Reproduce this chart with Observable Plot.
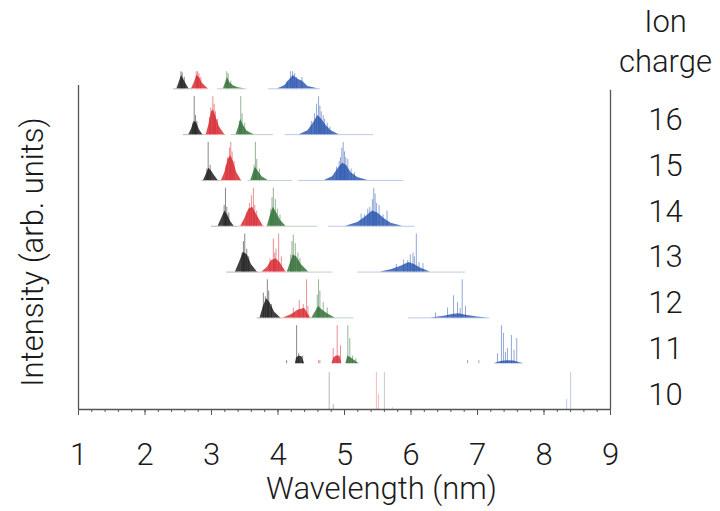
<!DOCTYPE html>
<html><head><meta charset="utf-8">
<script src="https://cdn.jsdelivr.net/npm/d3@7"></script>
<script src="https://cdn.jsdelivr.net/npm/@observablehq/plot@0.6"></script>
<style>
body{margin:0;background:#fff}
svg{font-family:Roboto,"Liberation Sans",sans-serif}
</style>
</head><body><div id="chart"></div>
<script>
// Ion charge rows (top row unlabeled), tick labels
const charges = [17,16,15,14,13,12,11,10];
const chargeLabels = [16,15,14,13,12,11,10];
const xTicks = [1,2,3,4,5,6,7,8,9];
const seriesColors = ["#111111","#d62028","#2b6a2f","#2350ad"];

// Dense "body" envelopes: [charge, wavelength (nm), intensity]
const blackBody = [
 [17,2.48,0],[17,2.52,0.2],[17,2.55,0.35],[17,2.58,0.25],[17,2.62,0.12],[17,2.66,0],
 [16,2.66,0],[16,2.70,0.15],[16,2.74,0.35],[16,2.78,0.3],[16,2.82,0.12],[16,2.87,0],
 [15,2.88,0],[15,2.92,0.15],[15,2.96,0.32],[15,3.00,0.25],[15,3.05,0.12],[15,3.10,0],
 [14,3.10,0],[14,3.15,0.2],[14,3.20,0.4],[14,3.24,0.3],[14,3.29,0.12],[14,3.34,0],
 [13,3.36,0],[13,3.42,0.25],[13,3.48,0.52],[13,3.54,0.45],[13,3.60,0.2],[13,3.69,0],
 [12,3.73,0],[12,3.78,0.3],[12,3.83,0.5],[12,3.88,0.4],[12,3.95,0.15],[12,4.04,0],
 [11,4.26,0],[11,4.28,0.15],[11,4.32,0.2],[11,4.36,0.18],[11,4.40,0]
];
const redBody = [
 [17,2.70,0],[17,2.74,0.15],[17,2.78,0.35],[17,2.82,0.3],[17,2.86,0.15],[17,2.92,0.05],[17,2.95,0],
 [16,2.92,0],[16,2.96,0.25],[16,3.00,0.6],[16,3.03,0.65],[16,3.07,0.45],[16,3.12,0.2],[16,3.20,0],
 [15,3.15,0],[15,3.20,0.2],[15,3.25,0.55],[15,3.29,0.65],[15,3.33,0.5],[15,3.38,0.2],[15,3.45,0],
 [14,3.44,0],[14,3.50,0.2],[14,3.56,0.45],[14,3.62,0.5],[14,3.68,0.3],[14,3.78,0],
 [13,3.76,0],[13,3.84,0.12],[13,3.90,0.3],[13,3.97,0.35],[13,4.03,0.25],[13,4.12,0],
 [12,4.08,0],[12,4.20,0.08],[12,4.30,0.2],[12,4.40,0.25],[12,4.49,0],
 [11,4.81,0],[11,4.84,0.15],[11,4.88,0.2],[11,4.93,0.2],[11,4.96,0]
];
const greenBody = [
 [17,3.18,0],[17,3.21,0.15],[17,3.24,0.3],[17,3.28,0.15],[17,3.33,0.08],[17,3.40,0.03],[17,3.50,0],
 [16,3.37,0],[16,3.41,0.2],[16,3.44,0.4],[16,3.48,0.25],[16,3.53,0.1],[16,3.60,0.03],[16,3.65,0],
 [15,3.59,0],[15,3.63,0.2],[15,3.66,0.35],[15,3.70,0.25],[15,3.76,0.1],[15,3.85,0],
 [14,3.84,0],[14,3.88,0.25],[14,3.93,0.5],[14,3.98,0.35],[14,4.04,0.15],[14,4.12,0],
 [13,4.14,0],[13,4.19,0.25],[13,4.23,0.45],[13,4.28,0.4],[13,4.35,0.2],[13,4.46,0],
 [12,4.51,0],[12,4.56,0.15],[12,4.61,0.3],[12,4.67,0.2],[12,4.75,0.1],[12,4.86,0],
 [11,5.02,0],[11,5.05,0.2],[11,5.10,0.15],[11,5.18,0.05],[11,5.22,0]
];
const blueBody = [
 [17,4.00,0],[17,4.10,0.08],[17,4.18,0.25],[17,4.23,0.35],[17,4.30,0.25],[17,4.37,0.2],[17,4.45,0.06],[17,4.60,0],
 [16,4.32,0],[16,4.45,0.1],[16,4.53,0.3],[16,4.60,0.5],[16,4.66,0.4],[16,4.72,0.25],[16,4.80,0.1],[16,4.92,0],
 [15,4.70,0],[15,4.82,0.1],[15,4.90,0.3],[15,4.97,0.45],[15,5.03,0.4],[15,5.10,0.2],[15,5.20,0.08],[15,5.35,0],
 [14,5.02,0],[14,5.20,0.1],[14,5.32,0.25],[14,5.42,0.4],[14,5.50,0.35],[14,5.60,0.2],[14,5.70,0.08],[14,5.87,0],
 [13,5.54,0],[13,5.70,0.06],[13,5.85,0.15],[13,5.97,0.25],[13,6.05,0.2],[13,6.15,0.1],[13,6.29,0],
 [12,6.30,0],[12,6.50,0.04],[12,6.62,0.09],[12,6.72,0.11],[12,6.85,0.06],[12,7.00,0.02],[12,7.15,0],
 [11,7.25,0],[11,7.35,0.06],[11,7.45,0.08],[11,7.55,0.07],[11,7.62,0.03],[11,7.70,0]
];

// Individual emission lines: [charge, wavelength (nm), intensity]
const blackLines = [
 [17,2.54,0.45],[17,2.56,0.42],[17,2.59,0.3],
 [16,2.74,1.0],[16,2.76,0.5],[16,2.72,0.3],[16,2.78,0.35],
 [15,2.95,1.0],[15,2.98,0.4],[15,2.93,0.3],
 [14,3.21,1.0],[14,3.19,0.55],[14,3.23,0.5],[14,3.26,0.35],
 [13,3.50,1.0],[13,3.48,0.8],[13,3.53,0.6],[13,3.46,0.5],[13,3.56,0.4],
 [12,3.84,1.0],[12,3.78,0.65],[12,3.86,0.7],[12,3.90,0.35],[12,3.81,0.55],
 [11,4.28,1.0],[11,4.31,0.26],[11,4.37,0.2],[11,4.13,0.08],
 [10,4.77,0.97],[10,4.83,0.13]
];
const redLines = [
 [17,2.77,0.45],[17,2.79,0.45],[17,2.81,0.4],[17,2.84,0.3],
 [16,3.02,1.0],[16,2.99,0.7],[16,3.04,0.8],[16,3.06,0.6],[16,3.09,0.4],[16,2.97,0.45],
 [15,3.29,1.0],[15,3.27,0.85],[15,3.31,0.75],[15,3.24,0.6],[15,3.34,0.5],[15,3.22,0.4],
 [14,3.63,1.0],[14,3.60,0.8],[14,3.57,0.6],[14,3.65,0.55],[14,3.53,0.35],[14,3.68,0.4],
 [13,4.01,1.0],[13,3.93,0.87],[13,3.97,0.6],[13,3.88,0.35],[13,4.05,0.4],[13,3.95,0.5],
 [12,4.43,1.0],[12,4.32,0.45],[12,4.23,0.26],[12,4.38,0.35],[12,4.45,0.3],
 [11,4.89,1.0],[11,4.94,0.47],[11,4.83,0.4],[11,4.61,0.08],[11,4.63,0.08],
 [10,5.48,0.97],[10,5.51,0.4]
];
const greenLines = [
 [17,3.23,0.45],[17,3.25,0.4],[17,3.29,0.2],
 [16,3.44,1.0],[16,3.46,0.55],[16,3.42,0.35],[16,3.50,0.3],
 [15,3.66,1.0],[15,3.68,0.55],[15,3.64,0.4],[15,3.72,0.3],
 [14,3.93,1.0],[14,3.91,0.75],[14,3.96,0.7],[14,3.99,0.45],[14,4.03,0.3],[14,3.89,0.45],
 [13,4.23,0.97],[13,4.21,0.8],[13,4.26,0.75],[13,4.30,0.5],[13,4.33,0.35],[13,4.19,0.45],
 [12,4.61,1.0],[12,4.59,0.6],[12,4.63,0.7],[12,4.68,0.4],[12,4.74,0.26],
 [11,5.05,1.0],[11,5.08,0.66],[11,5.17,0.13],[11,5.12,0.2],
 [10,5.60,0.97],[10,5.72,0.05]
];
const blueLines = [
 [17,4.19,0.45],[17,4.22,0.45],[17,4.25,0.4],[17,4.28,0.3],[17,4.36,0.3],[17,4.14,0.2],
 [16,4.61,1.0],[16,4.58,0.8],[16,4.63,0.75],[16,4.55,0.55],[16,4.68,0.5],[16,4.74,0.3],
 [16,4.50,0.35],[16,4.65,0.6],[16,4.70,0.4],[16,4.78,0.2],
 [15,4.98,1.0],[15,4.96,0.85],[15,5.00,0.75],[15,4.92,0.5],[15,5.05,0.55],[15,5.10,0.3],
 [15,4.88,0.35],[15,4.94,0.6],[15,5.02,0.6],[15,5.15,0.2],
 [14,5.44,1.0],[14,5.46,0.85],[14,5.42,0.7],[14,5.25,0.32],[14,5.64,0.4],[14,5.35,0.45],[14,5.52,0.55],
 [14,5.30,0.3],[14,5.38,0.5],[14,5.48,0.6],[14,5.58,0.3],
 [13,6.08,1.0],[13,5.99,0.45],[13,5.89,0.32],[13,6.03,0.5],[13,5.78,0.2],[13,6.18,0.22],
 [13,5.95,0.3],[13,6.05,0.4],[13,6.12,0.25],
 [12,6.77,1.0],[12,6.64,0.58],[12,6.70,0.4],[12,6.55,0.26],[12,6.37,0.13],[12,6.82,0.3],[12,6.74,0.25],
 [11,7.36,1.0],[11,7.39,0.8],[11,7.51,0.74],[11,7.59,0.66],[11,7.30,0.26],[11,7.45,0.4],[11,6.85,0.08],[11,7.02,0.08],
 [11,7.42,0.3],[11,7.55,0.35],
 [10,8.40,0.97],[10,8.34,0.26]
];

// Faint baseline segments: [charge, series index, from nm, to nm]
const baseSegments = [
 [17,0,2.43,2.70],[17,1,2.70,2.96],[17,2,3.09,3.53],[17,3,3.86,4.64],
 [16,0,2.58,2.90],[16,1,2.90,3.22],[16,2,3.30,3.93],[16,3,4.11,5.44],
 [15,0,2.86,3.12],[15,1,3.12,3.46],[15,2,3.55,4.22],[15,3,4.31,5.89],
 [14,0,3.00,3.38],[14,1,3.38,3.80],[14,2,3.82,4.60],[14,3,4.76,6.06],
 [13,0,3.23,3.72],[13,1,3.72,4.12],[13,2,4.12,4.82],[13,3,5.20,6.82],
 [12,0,3.69,4.06],[12,1,4.06,4.50],[12,2,4.50,5.14],[12,3,5.96,7.18]
];

const k = 0.83;               // intensity -> fraction of row spacing
const base = c => c - 10;     // row baseline
const bodies = [blackBody, redBody, greenBody, blueBody];
const lines = [blackLines, redLines, greenLines, blueLines];
const minorTicks = d3.range(1, 9.001, 0.2);
const axisColor = "#555";
const textColor = "#1a1a1a";
const fontFamily = "Roboto, 'Liberation Sans', sans-serif";
const fs = 31;

const chart = Plot.plot({
  width: 720, height: 511,
  marginLeft: 78, marginRight: 110, marginTop: 70, marginBottom: 102,
  x: {domain: [1, 9], axis: null},
  y: {domain: [0, 7.4], axis: null},
  marks: [
    Plot.ruleY(baseSegments, {y: d => base(d[0]), x1: d => d[2], x2: d => d[3],
      stroke: d => seriesColors[d[1]], strokeOpacity: 0.3, strokeWidth: 1}),
    ...bodies.map((b, i) => Plot.areaY(b, {x: d => d[1], y1: d => base(d[0]),
      y2: d => base(d[0]) + d[2] * k, z: d => d[0], fill: seriesColors[i], fillOpacity: 0.8})),
    ...lines.map((l, i) => Plot.ruleX(l, {x: d => d[1], y1: d => base(d[0]),
      y2: d => base(d[0]) + d[2] * k, stroke: seriesColors[i],
      strokeOpacity: d => d[0] === 10 ? 0.3 : 0.5, strokeWidth: 1})),
    // frame lines
    Plot.ruleY([0], {x1: () => 1, x2: () => 9, stroke: axisColor, strokeWidth: 1.3}),
    Plot.ruleX([1], {y1: () => 0, y2: () => 7.07, stroke: axisColor, strokeWidth: 1.3}),
    Plot.ruleX([9], {y1: () => 0, y2: () => 6.97, stroke: axisColor, strokeWidth: 1.3}),
    // x ticks
    Plot.axisX(minorTicks, {tickSize: 3, tickFormat: () => "", stroke: axisColor, label: null}),
    Plot.axisX(xTicks, {tickSize: 6, tickPadding: 27, fontSize: fs, fontWeight: 300,
      fill: textColor, stroke: axisColor, label: null, tickFormat: d => String(d)}),
    // axis titles
    Plot.text(["Wavelength (nm)"], {frameAnchor: "bottom", dx: 37, dy: 89, fontSize: fs, fontWeight: 300,
      fill: textColor, fontFamily}),
    Plot.text(["Intensity (arb. units)"], {frameAnchor: "left", textAnchor: "middle", dx: -45, dy: 12,
      rotate: -90, fontSize: fs, fontWeight: 300, fill: textColor, fontFamily}),
    // right-hand charge labels
    Plot.text(chargeLabels, {x: () => 9, y: d => base(d) + 0.32, dx: 55, text: d => String(d),
      fontSize: fs, fontWeight: 300, fill: textColor, fontFamily}),
    Plot.text(["Ion", "charge"], {x: () => 9, y: (d, i) => i === 0 ? 8.45 : 7.58, dx: 55,
      text: d => d, fontSize: fs, fontWeight: 300, fill: textColor, fontFamily})
  ]
});
document.getElementById("chart").append(chart);
</script>
</body></html>
